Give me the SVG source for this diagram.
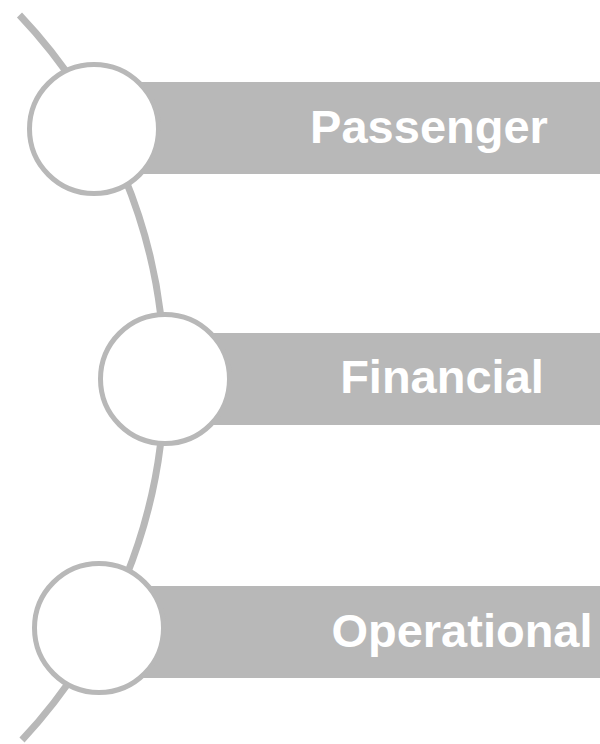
<svg xmlns="http://www.w3.org/2000/svg" width="600" height="744" viewBox="0 0 600 744">
<style>
.bar{fill:#b8b8b8}
.node{fill:#ffffff;stroke:#b8b8b8;stroke-width:5}
.lbl{font-family:"Liberation Sans",Arial,sans-serif;font-weight:bold;font-size:47px;fill:#ffffff;text-anchor:middle}
.arc{fill:none;stroke:#b8b8b8;stroke-width:7}
</style>
<rect width="600" height="744" fill="#ffffff"/>
<g id="connectors">
<path class="arc" d="M19.5,15 A529,529 0 0 1 22,740"/>
</g>
<g id="node-passenger">
<rect class="bar" x="94" y="82" width="506" height="92"/>
<circle class="node" cx="94" cy="129" r="64.5"/>
<text class="lbl" x="429" y="143">Passenger</text>
</g>
<g id="node-financial">
<rect class="bar" x="165" y="333" width="435" height="92"/>
<circle class="node" cx="165" cy="379" r="64.5"/>
<text class="lbl" x="442" y="393">Financial</text>
</g>
<g id="node-operational">
<rect class="bar" x="99" y="586" width="501" height="92"/>
<circle class="node" cx="99" cy="628" r="64.5"/>
<text class="lbl" x="462" y="647">Operational</text>
</g>
</svg>
